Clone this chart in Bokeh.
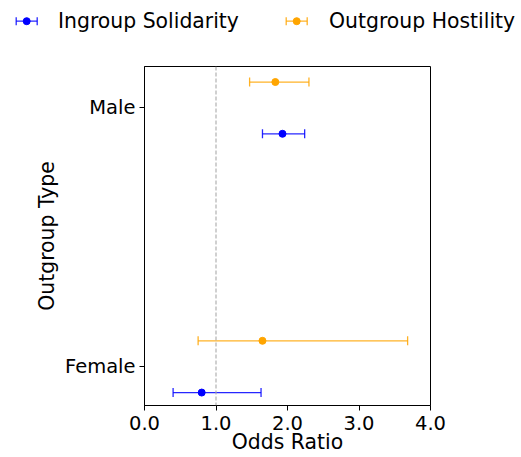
from bokeh.plotting import figure
from bokeh.models import (ColumnDataSource, Whisker, TeeHead, Span, FixedTicker,
                          Range1d, NumeralTickFormatter)
from bokeh.layouts import column
from bokeh.core.properties import value
from bokeh.embed import file_html
from bokeh.resources import INLINE

# ---- data ----
categories = ["Female", "Male"]
series = ["Ingroup Solidarity", "Outgroup Hostility"]
colors = ["blue", "orange"]
ingroup_or = [0.80, 1.93]
ingroup_lo = [0.40, 1.65]
ingroup_hi = [1.63, 2.24]
outgroup_or = [1.65, 1.83]
outgroup_lo = [0.75, 1.47]
outgroup_hi = [3.68, 2.30]
x_ticks = [0, 1, 2, 3, 4]
reference_or = 1.0
x_title = "Odds Ratio"
y_title = "Outgroup Type"

FONT = "DejaVu Sans"
TICK_FS = "19.5px"
LABEL_FS = "20.4px"

offsets = [-0.1, 0.1]
vals = [(ingroup_or, ingroup_lo, ingroup_hi), (outgroup_or, outgroup_lo, outgroup_hi)]

p = figure(output_backend="svg", toolbar_location=None,
           width=521, height=409,
           min_border_left=144, min_border_right=91,
           min_border_top=18, min_border_bottom=52,
           x_range=Range1d(0, 4), y_range=Range1d(-0.15, 1.16))
p.frame_align = False
p.grid.visible = False
p.outline_line_color = "black"
p.outline_line_alpha = 1
p.outline_line_width = 1
p.background_fill_color = "white"
p.border_fill_color = "white"

span = Span(location=reference_or, dimension="height", line_color="#aaaaaa",
            line_dash="4 2", line_width=1.1)
p.add_layout(span)

for (orv, lo, hi), off, col in zip(vals, offsets, colors):
    ys = [i + off for i in range(len(categories))]
    src = ColumnDataSource(dict(x=orv, lo=lo, hi=hi, y=ys))
    w = Whisker(source=src, base="y", lower="lo", upper="hi", dimension="width",
                line_color=col, line_width=1.3, line_alpha=0.85,
                lower_head=TeeHead(size=9, line_color=col, line_width=1.3, line_alpha=0.85),
                upper_head=TeeHead(size=9, line_color=col, line_width=1.3, line_alpha=0.85))
    p.add_layout(w)
    p.scatter("x", "y", source=src, size=7, color=col, line_color=col)

p.xaxis.ticker = FixedTicker(ticks=x_ticks)
p.xaxis.formatter = NumeralTickFormatter(format="0.0")
p.yaxis.ticker = FixedTicker(ticks=list(range(len(categories))))
p.yaxis.major_label_overrides = {i: c for i, c in enumerate(categories)}
p.xaxis.axis_label = x_title
p.yaxis.axis_label = y_title
for ax in (p.xaxis, p.yaxis):
    ax.major_label_text_font = FONT
    ax.major_label_text_font_size = TICK_FS
    ax.major_label_text_color = "black"
    ax.axis_label_text_font = FONT
    ax.axis_label_text_font_size = LABEL_FS
    ax.axis_label_text_font_style = "normal"
    ax.axis_label_text_color = "black"
    ax.minor_tick_line_color = None
    ax.major_tick_in = 0
    ax.major_tick_out = 5
    ax.major_tick_line_color = "black"
    ax.axis_line_color = "black"
p.xaxis.major_label_standoff = 5
p.xaxis.axis_label_standoff = -3
p.yaxis.major_label_standoff = 4
p.yaxis.axis_label_standoff = 3

# ---- legend drawn as a strip above ----
lg = figure(output_backend="svg", toolbar_location=None, width=521, height=48,
            x_range=Range1d(0, 521), y_range=Range1d(48, 0),
            min_border=0, x_axis_location=None, y_axis_location=None)
lg.frame_align = False
lg.grid.visible = False
lg.outline_line_color = None
ly = 20.7
item_x = [15.7, 285.7]
text_x = [57.5, 328.5]
for name, col, x0, tx in zip(series, colors, item_x, text_x):
    x1 = x0 + 21
    lg.segment(x0=[x0], y0=[ly], x1=[x1], y1=[ly], line_color=col, line_width=1.3, line_alpha=0.85)
    lg.segment(x0=[x0, x1], y0=[ly - 4, ly - 4], x1=[x0, x1], y1=[ly + 4, ly + 4],
               line_color=col, line_width=1.3, line_alpha=0.85)
    lg.scatter(x=[(x0 + x1) / 2], y=[ly], size=7, color=col)
    lg.text(x=[tx], y=[ly], text=[name], text_font=value(FONT), text_font_size=LABEL_FS,
            text_baseline="middle", text_align="left", text_color="black")

layout = column(lg, p, spacing=0)
open("out.html", "w").write(file_html(layout, INLINE))
